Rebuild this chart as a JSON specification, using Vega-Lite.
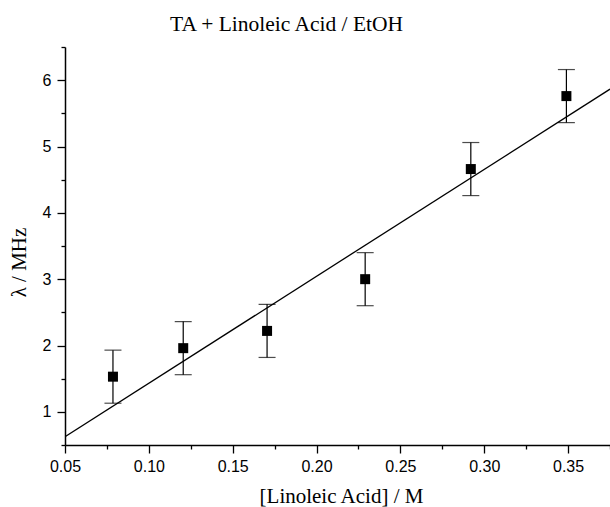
{
  "$schema": "https://vega.github.io/schema/vega-lite/v6.json",
  "width": 545,
  "height": 398,
  "autosize": "none",
  "padding": {"left": 65, "top": 47, "right": 0, "bottom": 62},
  "background": "white",
  "config": {
    "view": {"stroke": null},
    "axis": {
      "grid": false,
      "domainColor": "black",
      "domainWidth": 1.5,
      "tickColor": "black",
      "tickWidth": 1.3,
      "labelColor": "black",
      "titleColor": "black",
      "labelFont": "Liberation Sans",
      "labelFontSize": 16,
      "titleFont": "Liberation Serif",
      "titleFontSize": 21,
      "titleFontWeight": "normal"
    }
  },
  "title": {
    "text": "TA + Linoleic Acid / EtOH",
    "font": "Liberation Serif",
    "fontSize": 21.5,
    "fontWeight": "normal",
    "color": "black",
    "anchor": "start",
    "frame": "group",
    "dx": 105,
    "offset": 11
  },
  "datasets": {
    "pts": [
      {"c": 0.0786, "lam": 1.53, "lo": 1.13, "hi": 1.93},
      {"c": 0.1205, "lam": 1.96, "lo": 1.56, "hi": 2.36},
      {"c": 0.1705, "lam": 2.22, "lo": 1.82, "hi": 2.62},
      {"c": 0.229, "lam": 3.0, "lo": 2.6, "hi": 3.4},
      {"c": 0.292, "lam": 4.66, "lo": 4.26, "hi": 5.06},
      {"c": 0.349, "lam": 5.76, "lo": 5.36, "hi": 6.16}
    ],
    "fit": [
      {"c": 0.05, "lam": 0.625},
      {"c": 0.375, "lam": 5.865}
    ]
  },
  "resolve": {"axis": {"x": "independent", "y": "independent"}},
  "layer": [
    {
      "data": {"name": "fit"},
      "mark": {"type": "line", "color": "black", "strokeWidth": 1.3, "clip": true},
      "encoding": {
        "x": {
          "field": "c", "type": "quantitative",
          "scale": {"domain": [0.05, 0.375], "nice": false, "zero": false},
          "axis": {
            "orient": "bottom",
            "title": "[Linoleic Acid] / M",
            "titleX": 276,
            "values": [0.05, 0.1, 0.15, 0.2, 0.25, 0.3, 0.35],
            "format": ".2f",
            "tickSize": 8,
            "labelPadding": 5,
            "labelFlush": false,
            "labelOverlap": false,
            "titlePadding": 11
          }
        },
        "y": {
          "field": "lam", "type": "quantitative",
          "scale": {"domain": [0.5, 6.5], "nice": false, "zero": false},
          "axis": {
            "orient": "left",
            "title": "λ / MHz",
            "titleY": 215,
            "values": [1, 2, 3, 4, 5, 6],
            "format": "d",
            "tickSize": 8,
            "labelPadding": 6,
            "labelOverlap": false,
            "titlePadding": 13
          }
        }
      }
    },
    {
      "data": {"name": "pts"},
      "mark": {"type": "rule", "color": "black", "strokeWidth": 1.2},
      "encoding": {
        "x": {
          "field": "c", "type": "quantitative",
          "axis": {
            "orient": "bottom",
            "title": null,
            "values": [0.075, 0.125, 0.175, 0.225, 0.275, 0.325, 0.375],
            "labels": false,
            "domain": false,
            "tickSize": 4
          }
        },
        "y": {
          "field": "lo", "type": "quantitative",
          "axis": {
            "orient": "left",
            "title": null,
            "values": [0.5, 1.5, 2.5, 3.5, 4.5, 5.5, 6.5],
            "labels": false,
            "domain": false,
            "tickSize": 4
          }
        },
        "y2": {"field": "hi"}
      }
    },
    {
      "data": {"name": "pts"},
      "mark": {"type": "tick", "orient": "horizontal", "color": "black", "size": 17, "thickness": 1.2},
      "encoding": {
        "x": {"field": "c", "type": "quantitative", "axis": null},
        "y": {"field": "lo", "type": "quantitative", "axis": null}
      }
    },
    {
      "data": {"name": "pts"},
      "mark": {"type": "tick", "orient": "horizontal", "color": "black", "size": 17, "thickness": 1.2},
      "encoding": {
        "x": {"field": "c", "type": "quantitative", "axis": null},
        "y": {"field": "hi", "type": "quantitative", "axis": null}
      }
    },
    {
      "data": {"name": "pts"},
      "mark": {"type": "point", "shape": "square", "filled": true, "color": "black", "opacity": 1, "size": 100},
      "encoding": {
        "x": {"field": "c", "type": "quantitative", "axis": null},
        "y": {"field": "lam", "type": "quantitative", "axis": null}
      }
    }
  ]
}
